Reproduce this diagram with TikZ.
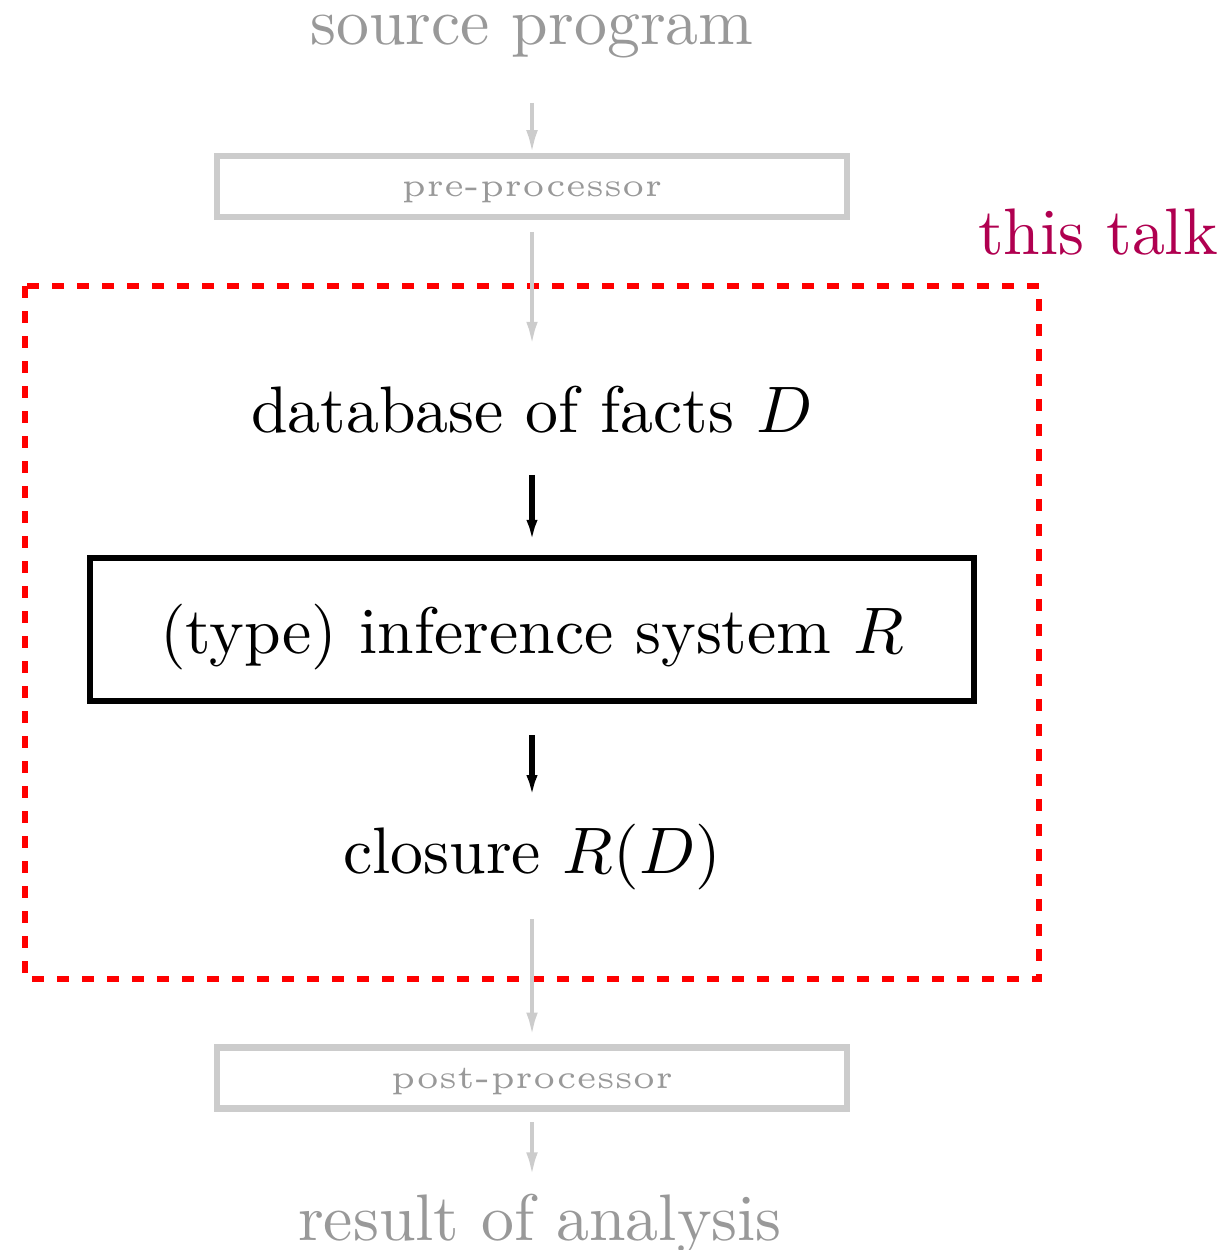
\documentclass[tikz,border=0pt]{standalone}
\usetikzlibrary{arrows.meta}
\definecolor{talkcolor}{RGB}{176,0,80}
\begin{document}
\begin{tikzpicture}[
        x=0.152pt, y=-0.152pt,
        faded text/.style={text=black!40},
        faded box/.style={draw=black!20, line width=1pt, minimum width=95.8pt, minimum height=9.3pt, inner sep=0pt, text height=4.1pt, text depth=1pt, text=black!40, font=\tiny},
        main box/.style={draw, line width=1pt, minimum width=134.3pt, minimum height=21.7pt, inner sep=0pt, text height=9.9pt, text depth=2.5pt},
        faded edge/.style={draw=black!20, line width=0.75pt, -{Latex[length=4.3pt,width=1.7pt]}},
        solid edge/.style={draw, line width=0.9pt, -{Latex[length=3.3pt,width=1.7pt]}},
        talk frame/.style={draw=red, line width=0.9pt, dash pattern=on 1.85pt off 1.95pt},
    ]
	\useasboundingbox (0,0) rectangle (1226,1250);
	\node[faded text] (src) at (532,36) {source program};
	\node[faded box] (pre) at (532,186.5) {pre-processor};
	\node (db) at (532,410) {database of facts $D$};
	\node[main box] (inf) at (532,629.5) {(type) inference system $R$};
	\node (clos) at (532,857) {closure $R(D)$};
	\node[faded box] (post) at (532,1078) {post-processor};
	\node[faded text] (res) at (540,1224) {result of analysis};
	\draw[talk frame] (25,286) rectangle (1039,979);
	\node[text=talkcolor] (talk) at (1098,232) {this talk};
	\draw[faded edge, shorten <=3.35pt, shorten >=-0.9pt] (src) -- (pre);
	\draw[faded edge, shorten <=1.75pt, shorten >=2pt] (pre) -- (db);
	\draw[solid edge, shorten <=2.75pt, shorten >=2pt] (db) -- (inf);
	\draw[solid edge, shorten <=4.75pt, shorten >=0.6pt] (inf) -- (clos);
	\draw[faded edge, shorten <=0.9pt, shorten >=0.5pt] (clos) -- (post);
	\draw[faded edge, shorten <=1.55pt, shorten >=-1.5pt] (post.south) -- (post.south |- res.north);
\end{tikzpicture}
\end{document}
